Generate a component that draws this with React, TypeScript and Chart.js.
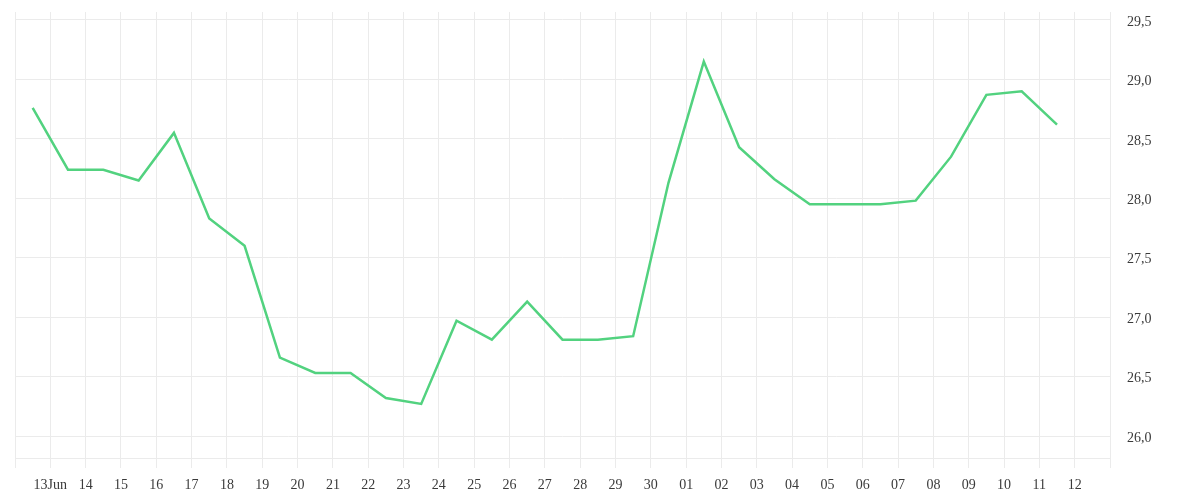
import { useEffect, useRef } from "react";
import { Chart, registerables } from "chart.js";

Chart.register(...registerables);

// one label per day boundary (midnight), points sit at midday
const dayLabels = [
  "13Jun", "14", "15", "16", "17", "18", "19", "20", "21", "22",
  "23", "24", "25", "26", "27", "28", "29", "30", "01", "02",
  "03", "04", "05", "06", "07", "08", "09", "10", "11", "12",
];

const prices = [
  28.76, 28.24, 28.24, 28.15, 28.55, 27.83, 27.6, 26.66, 26.53, 26.53,
  26.32, 26.27, 26.97, 26.81, 27.13, 26.81, 26.81, 26.84, 28.13, 29.15,
  28.43, 28.16, 27.95, 27.95, 27.95, 27.98, 28.35, 28.87, 28.9, 28.62,
];

const yTicks = [26, 26.5, 27, 27.5, 28, 28.5, 29, 29.5];
const yMin = 25.815;
const yMax = 29.567;

const gridColor = "#ebebeb";
const textColor = "#3a3a3a";
const fontFamily = "'Liberation Serif', serif";

export default function App() {
  const chartRef = useRef<HTMLCanvasElement>(null);
  const chartInstanceRef = useRef<Chart | null>(null);

  useEffect(() => {
    if (!chartRef.current) return;
    if (chartInstanceRef.current) {
      chartInstanceRef.current.destroy();
    }
    const ctx = chartRef.current.getContext("2d");
    if (!ctx) return;

    chartInstanceRef.current = new Chart(ctx, {
      type: "line",
      data: {
        datasets: [
          {
            data: prices.map((v, i) => ({ x: i + 0.5, y: v })),
            borderColor: "#52d27f",
            borderWidth: 2.5,
            pointRadius: 0,
            tension: 0,
            fill: false,
          },
        ],
      },
      options: {
        responsive: true,
        maintainAspectRatio: false,
        animation: false,
        events: [],
        layout: { padding: { left: 7, top: 4, right: 0, bottom: 0 } },
        plugins: {
          legend: { display: false },
          tooltip: { enabled: false },
        },
        scales: {
          x: {
            type: "linear",
            min: 0,
            max: dayLabels.length + 1,
            afterBuildTicks: (scale) => {
              scale.ticks = Array.from({ length: dayLabels.length + 2 }, (_, k) => ({ value: k }));
            },
            afterFit: (scale) => {
              scale.height = 34;
              scale.paddingLeft = 0;
              scale.paddingRight = 0;
            },
            grid: {
              color: gridColor,
              tickColor: gridColor,
              tickLength: 10,
              drawTicks: true,
            },
            border: { color: gridColor },
            ticks: {
              autoSkip: false,
              maxRotation: 0,
              padding: 9,
              color: textColor,
              font: { family: fontFamily, size: 14 },
              callback: (value) => dayLabels[Number(value) - 1] ?? "",
            },
          },
          y: {
            type: "linear",
            position: "right",
            min: yMin,
            max: yMax,
            afterBuildTicks: (scale) => {
              scale.ticks = yTicks.map((v) => ({ value: v }));
            },
            afterFit: (scale) => {
              scale.width = 82;
              scale.paddingTop = 0;
              scale.paddingBottom = 0;
            },
            grid: {
              color: gridColor,
              drawTicks: false,
            },
            border: { color: gridColor },
            ticks: {
              padding: 17,
              labelOffset: 2,
              color: textColor,
              font: { family: fontFamily, size: 14 },
              callback: (value) => Number(value).toFixed(1).replace(".", ","),
            },
          },
        },
      },
    });

    return () => {
      if (chartInstanceRef.current) {
        chartInstanceRef.current.destroy();
        chartInstanceRef.current = null;
      }
    };
  }, []);

  return (
    <div style={{ position: "relative", height: "484px" }}>
      <canvas ref={chartRef} />
    </div>
  );
}
